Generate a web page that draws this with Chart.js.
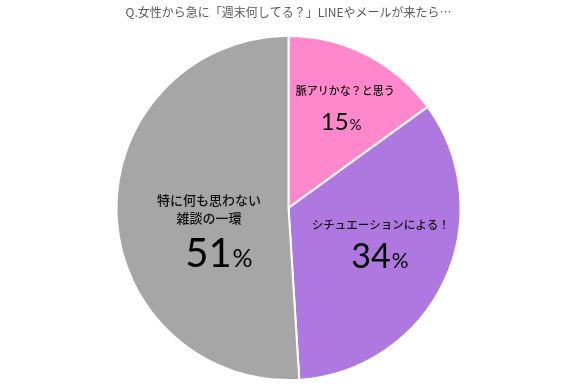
<!DOCTYPE html>
<html>
<head>
<meta charset="utf-8">
<script src="https://cdn.jsdelivr.net/npm/chart.js@4"></script>
<style>
  html, body { margin: 0; padding: 0; background: #fff; }
  #wrap { width: 577px; height: 392px; }
</style>
</head>
<body>
<div id="wrap"><canvas id="pie-chart"></canvas></div>
<script>
var titleText = "Q.女性から急に「週末何してる？」LINEやメールが来たら…";
var labels = [["脈アリかな？と思う"], ["シチュエーションによる！"], ["特に何も思わない", "雑談の一環"]];
var values = [15, 34, 51];
var colors = ["#FF88CC", "#AF78E0", "#A6A6A6"];

// label placement per slice (styling only)
var labelRadius = [0.757, 0.546, 0.465];   // fraction of radius, first text line
var labelAngleShift = [-1.2, -14.8, 7.5];  // degrees from the slice middle
var textSize = [11, 11.5, 13];
var numSize = [24, 34, 40];
var numDy = [39, 43, 67];                  // baseline of the big number below the first text line
var numDx = [-4, -1, 10];

var jp = '"Noto Sans CJK JP", sans-serif';

var sliceLabels = {
  id: 'sliceLabels',
  afterDatasetsDraw: function(chart) {
    var ctx = chart.ctx;
    var arcs = chart.getDatasetMeta(0).data;
    arcs.forEach(function(arc, i) {
      var mid = (arc.startAngle + arc.endAngle) / 2 + labelAngleShift[i] * Math.PI / 180;
      var r = arc.outerRadius * labelRadius[i];
      var cx = arc.x + Math.cos(mid) * r;
      var cy = arc.y + Math.sin(mid) * r;
      ctx.save();
      ctx.fillStyle = "#111";
      ctx.textAlign = "center";
      ctx.textBaseline = "middle";
      ctx.font = "500 " + textSize[i] + "px " + jp;
      labels[i].forEach(function(l, k) {
        ctx.fillText(l, cx, cy + k * 18);
      });
      // percentage: big number + smaller %
      var num = String(values[i]);
      var pSize = Math.round(numSize[i] * 0.62);
      ctx.fillStyle = "#000";
      ctx.font = numSize[i] + "px Lato, sans-serif";
      var nw = ctx.measureText(num).width;
      ctx.font = pSize + "px Lato, sans-serif";
      var pw = ctx.measureText("%").width;
      var x0 = cx + numDx[i] - (nw + pw + 1) / 2;
      var by = cy + numDy[i];
      ctx.textAlign = "left";
      ctx.textBaseline = "alphabetic";
      ctx.font = numSize[i] + "px Lato, sans-serif";
      ctx.fillText(num, x0, by);
      ctx.font = pSize + "px Lato, sans-serif";
      ctx.fillText("%", x0 + nw + 1, by);
      ctx.restore();
    });
  }
};

new Chart(document.getElementById("pie-chart"), {
  type: 'pie',
  data: {
    labels: labels.map(function(l) { return l.join(""); }),
    datasets: [{
      data: values,
      backgroundColor: colors,
      borderColor: "#fff",
      borderWidth: 2
    }]
  },
  options: {
    responsive: true,
    maintainAspectRatio: false,
    animation: false,
    layout: { padding: { top: 0, bottom: 11 } },
    plugins: {
      legend: { display: false },
      tooltip: { enabled: false },
      title: {
        display: true,
        text: titleText,
        color: "#595959",
        font: { size: 12, family: jp, weight: 'normal' },
        padding: { top: 5, bottom: 15.6 }
      }
    }
  },
  plugins: [sliceLabels]
});
</script>
</body>
</html>
